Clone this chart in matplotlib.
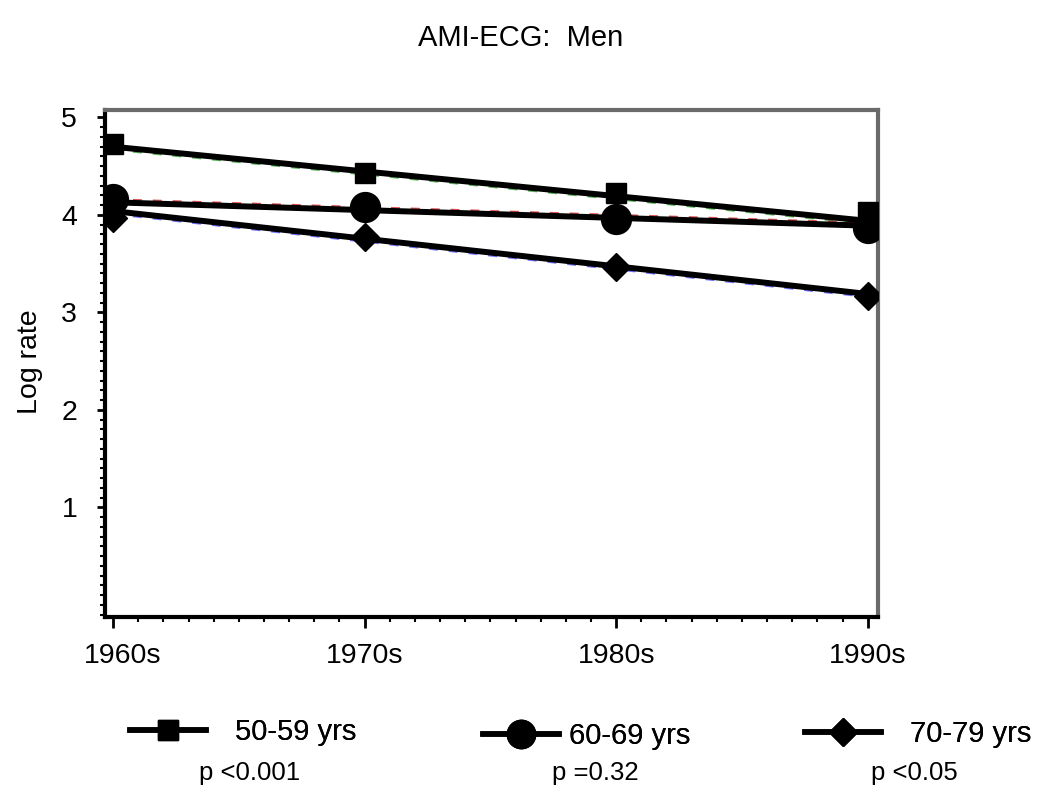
import numpy as np
import matplotlib
matplotlib.use("Agg")
import matplotlib.pyplot as plt
from matplotlib.lines import Line2D
from matplotlib.ticker import MultipleLocator
from matplotlib.transforms import ScaledTranslation

plt.rcParams['font.family'] = ['Liberation Sans', 'DejaVu Sans']

# ---- data ----
decades = [1960, 1970, 1980, 1990]
decade_labels = ['1960s', '1970s', '1980s', '1990s']
groups = ['50-59 yrs', '60-69 yrs', '70-79 yrs']
pvalues = ['p <0.001', 'p =0.32', 'p <0.05']
rate_50_59 = [4.73, 4.43, 4.23, 4.03]
rate_60_69 = [4.16, 4.08, 3.96, 3.87]
rate_70_79 = [3.97, 3.77, 3.47, 3.17]
# fitted trend lines (values at 1960s and 1990s)
trend_50_59 = [4.70, 3.94]
trend_60_69 = [4.13, 3.89]
trend_70_79 = [4.04, 3.19]
trend_years = [1960, 1990]

series = [rate_50_59, rate_60_69, rate_70_79]
trends = [trend_50_59, trend_60_69, trend_70_79]
markers = ['s', 'o', 'D']
msizes = [14.5, 21.5, 14.5]
dash_colors = ['#2ca02c', '#d62728', '#5050ff']
dash_shift = [-0.032, 0.032, -0.032]

fig = plt.figure(figsize=(10.5, 8.08), dpi=100)
ax = fig.add_axes([0.1, 0.2364, 0.736, 0.6275])

for vals, tr, m, ms, dc, sh in zip(series, trends, markers, msizes, dash_colors, dash_shift):
    ax.plot(trend_years, np.array(tr) + sh, color=dc, lw=1.3, ls=(0, (5, 6)), zorder=2, alpha=0.8)
    ax.plot(trend_years, tr, color='black', lw=4.3, solid_capstyle='butt', zorder=3)
    ax.plot(decades, vals, ls='none', marker=m, ms=ms, color='black', zorder=4)

ax.set_xlim(1959.68, 1990.4)
ax.set_ylim(-0.123, 5.077)
ax.set_xticks(decades)
ax.set_xticklabels(decade_labels)
ax.set_yticks([1, 2, 3, 4, 5])
ax.xaxis.set_minor_locator(MultipleLocator(1))
ax.yaxis.set_minor_locator(MultipleLocator(0.1))
ax.tick_params(axis='both', which='major', labelsize=20.5, direction='out', length=6, width=2)
ax.tick_params(axis='both', which='minor', direction='out', length=3.5, width=1.5)
ax.tick_params(axis='x', which='major', pad=11, length=8)
ax.tick_params(axis='y', which='major', pad=14)

# first x label sits a little to the right in the reference
lbl0 = ax.get_xticklabels()[0]
lbl0.set_transform(lbl0.get_transform() + ScaledTranslation(10 / 100, 0, fig.dpi_scale_trans))

for s in ['left', 'bottom']:
    ax.spines[s].set_linewidth(3)
    ax.spines[s].set_color('black')
for s in ['top', 'right']:
    ax.spines[s].set_linewidth(3)
    ax.spines[s].set_color('#6a6a6a')

fig.text(521 / 1050, 1 - 38 / 808, 'AMI-ECG:  Men', ha='center', va='center', fontsize=21)
fig.text(30 / 1050, 1 - 362 / 808, 'Log rate', ha='center', va='center', rotation=90, fontsize=20.5)

# legend entries
leg_x = [130, 483, 805]
leg_y = [732, 736, 734]
leg_pad = [1.0, 0.35, 1.0]
for g, m, ms, lx, ly, pad in zip(groups, markers, msizes, leg_x, leg_y, leg_pad):
    h = Line2D([], [], color='black', lw=4, marker=m, ms=ms * 0.95)
    lg = fig.legend([h], [g], loc='center left', bbox_to_anchor=(lx / 1050, 1 - ly / 808),
                    frameon=False, borderpad=0, borderaxespad=0, handlelength=2.6,
                    handletextpad=pad, fontsize=21)
    fig.add_artist(lg)

p_x = [250, 595, 914]
for p, px in zip(pvalues, p_x):
    fig.text(px / 1050, 1 - 773 / 808, p, ha='center', va='center', fontsize=18.5)

fig.savefig('out.png', dpi=100)
